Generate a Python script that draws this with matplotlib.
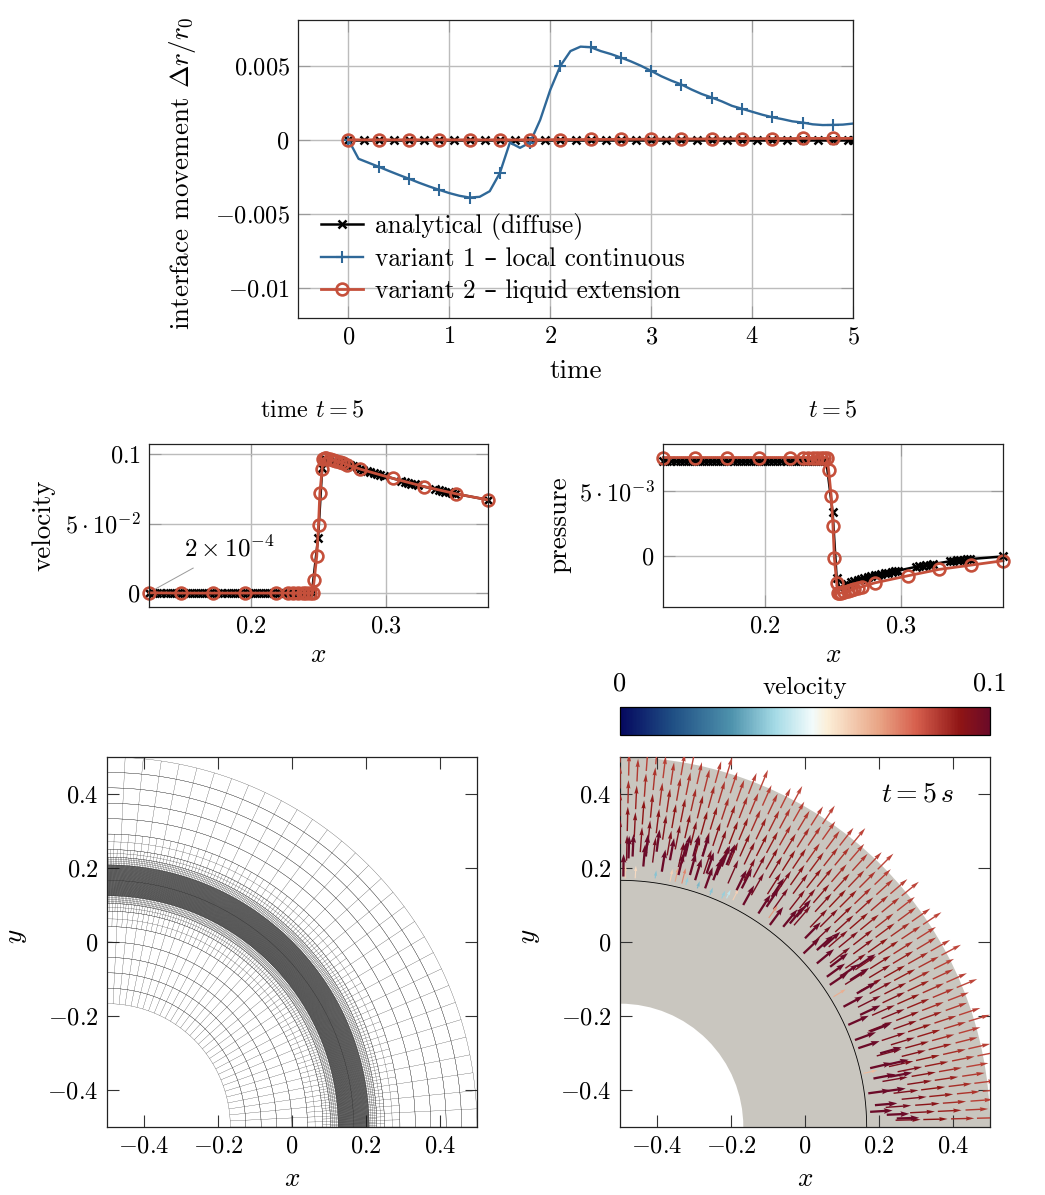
"""
Interface movement, velocity and pressure profiles, mesh and velocity glyphs
"""
import numpy as np
import matplotlib
matplotlib.use('Agg')
import matplotlib.pyplot as plt
from matplotlib.cm import ScalarMappable
from matplotlib.collections import LineCollection
from matplotlib.colors import LinearSegmentedColormap, Normalize
from matplotlib.patches import Wedge

W, H = 1045, 1195
plt.rcParams['font.family'] = ['cmr10', 'DejaVu Sans']
plt.rcParams['mathtext.fontset'] = 'cm'
plt.rcParams['axes.unicode_minus'] = False

RED = '#c5503b'
BLUE = '#2f6898'
GRID = '#bcbcbc'

# top panel
t_line = [0.0, 0.1, 0.2, 0.3, 0.4, 0.5, 0.6, 0.7, 0.8, 0.9, 1.0, 1.1, 1.2, 1.3, 1.4, 1.5, 1.6,
          1.7, 1.8, 1.9, 2.0, 2.1, 2.2, 2.3, 2.4, 2.5, 2.6, 2.7, 2.8, 2.9, 3.0, 3.1, 3.2, 3.3,
          3.4, 3.5, 3.6, 3.7, 3.8, 3.9, 4.0, 4.1, 4.2, 4.3, 4.4, 4.5, 4.6, 4.7, 4.8, 4.9, 5.0]
move_variant1 = [0.0, -0.00128, -0.00155, -0.00182, -0.0021, -0.00237, -0.00263, -0.0029,
                 -0.00315, -0.00338, -0.0036, -0.00378, -0.0039, -0.00385, -0.00347, -0.00225,
                 -0.00018, -0.00054, -0.00018, 0.00135, 0.00338, 0.005, 0.006, 0.0063, 0.00626,
                 0.0060, 0.0058, 0.00556, 0.0053, 0.005, 0.00466, 0.0043, 0.004, 0.00374, 0.0034,
                 0.0031, 0.00286, 0.0026, 0.0023, 0.0021, 0.0019, 0.0017, 0.00153, 0.0014,
                 0.00125, 0.00117, 0.00105, 0.001, 0.00101, 0.00103, 0.0011]
move_variant2 = [0.0, 0.0, 0.0, 0.0, 0.0, 0.0, 0.0, 0.0, 0.0, 0.0, 0.0, 0.0, 0.0, 0.0, 0.0, 0.0,
                 0.0, 0.0, 0.0, 0.0, 0.00001, 0.00002, 0.00002, 0.00002, 0.00003, 0.00003,
                 0.00003, 0.00004, 0.00004, 0.00004, 0.00005, 0.00005, 0.00005, 0.00006, 0.00006,
                 0.00006, 0.00007, 0.00007, 0.00007, 0.00008, 0.00008, 0.00008, 0.00009, 0.00009,
                 0.00009, 0.0001, 0.0001, 0.0001, 0.0001, 0.0001, 0.0001]
t_analytical = [0.0, 0.15, 0.3, 0.45, 0.6, 0.75, 0.9, 1.05, 1.2, 1.35, 1.5, 1.65, 1.8, 1.95, 2.1,
                2.25, 2.4, 2.55, 2.7, 2.85, 3.0, 3.15, 3.3, 3.45, 3.6, 3.75, 3.9, 4.05, 4.2,
                4.35, 4.5, 4.65, 4.8, 4.95, 5.0]
move_analytical = [0.0] * 35
top_xticks = [0, 1, 2, 3, 4, 5]
top_yticks = [0.005, 0, -0.005, -0.01]
top_yticklabels = ['$0.005$', '$0$', '$-0.005$', '$-0.01$']

# profile panels
x_black = [0.125, 0.128, 0.131, 0.134, 0.137, 0.14, 0.143, 0.146, 0.149, 0.152, 0.155, 0.158,
           0.161, 0.164, 0.167, 0.17, 0.173, 0.176, 0.179, 0.182, 0.185, 0.188, 0.191, 0.194,
           0.197, 0.2, 0.203, 0.206, 0.209, 0.212, 0.215, 0.218, 0.221, 0.224, 0.227, 0.23,
           0.233, 0.236, 0.239, 0.242, 0.245, 0.2496, 0.2526, 0.2547, 0.258, 0.2605, 0.263,
           0.2655, 0.268, 0.2705, 0.273, 0.2755, 0.278, 0.2805, 0.283, 0.2855, 0.288, 0.2905,
           0.293, 0.2955, 0.298, 0.311, 0.3135, 0.316, 0.3185, 0.321, 0.3235, 0.336, 0.3385,
           0.341, 0.3435, 0.346, 0.3485, 0.351, 0.375]
velocity_black = [0.0] * 41 + [0.0396, 0.0898, 0.0965, 0.0955, 0.0948, 0.0942, 0.0936, 0.093,
                               0.0925, 0.092, 0.0915, 0.0905, 0.0895, 0.0888, 0.088, 0.0873,
                               0.0866, 0.086, 0.0852, 0.0845, 0.0808, 0.0802, 0.0795, 0.0788,
                               0.0783, 0.0775, 0.0748, 0.0742, 0.0737, 0.0731, 0.0726, 0.072,
                               0.0715, 0.0671]
pressure_black = [0.00729] * 41 + [0.0034, -0.0017, -0.00242, -0.00225, -0.00212, -0.00203,
                                   -0.00192, -0.00183, -0.00175, -0.00168, -0.00162, -0.00155,
                                   -0.00148, -0.00143, -0.00137, -0.00132, -0.00127, -0.00122,
                                   -0.00117, -0.00112, -0.00083, -0.00078, -0.00074, -0.0007,
                                   -0.00066, -0.00062, -0.0004, -0.00037, -0.00034, -0.00031,
                                   -0.00028, -0.00026, -0.00023, -0.00003]
x_red = [0.125, 0.1481, 0.1717, 0.1953, 0.2184, 0.2275, 0.2312, 0.2349, 0.2381, 0.241, 0.2435,
         0.2455, 0.2467, 0.2486, 0.2499, 0.2509, 0.2526, 0.2533, 0.2545, 0.2558, 0.2582, 0.2607,
         0.2631, 0.2656, 0.268, 0.271, 0.2808, 0.3049, 0.3278, 0.3512, 0.375]
velocity_red = [0.0002, 0.0, 0.0, 0.0, 0.0, 0.0, 0.0, 0.0, 0.0, 0.0, 0.0, 0.0, 0.0091, 0.0266,
                0.0492, 0.0719, 0.0894, 0.0967, 0.0971, 0.0973, 0.0965, 0.0958, 0.095, 0.0944,
                0.0936, 0.0923, 0.0892, 0.0825, 0.0767, 0.0715, 0.0671]
pressure_red = [0.00758, 0.00758, 0.00758, 0.00758, 0.00758, 0.00758, 0.00758, 0.00758, 0.00758,
                0.00758, 0.00758, 0.00758, 0.0066, 0.00459, 0.00229, -0.00015, -0.00204,
                -0.00286, -0.00286, -0.00284, -0.00276, -0.00268, -0.0026, -0.0025, -0.00243,
                -0.00237, -0.00206, -0.00152, -0.00103, -0.0007, -0.00036]

# colour bar
cbar_colors = ['#05085f', '#1f4e84', '#4e92ac', '#a5dbe6', '#f2fbfb', '#fcefd8', '#e9a586',
               '#d7604e', '#8f1515', '#6b0a28']
cbar_stops = [0.0, 0.14, 0.3, 0.42, 0.52, 0.56, 0.7, 0.8, 0.92, 1.0]

# mesh: radial cells, arcs per cell and spoke multiplier per cell
mesh_edges = [0.3333, 0.375, 0.4167, 0.4583, 0.5, 0.5417, 0.5833, 0.6042, 0.625, 0.6667, 0.7083,
              0.7292, 0.75, 0.7917, 0.8333, 0.875, 0.9167, 0.9583, 1.0]
mesh_arcs = [1, 1, 1, 1, 1, 2, 2, 4, 30, 30, 4, 2, 2, 1, 1, 1, 1, 1]
mesh_spokes = [1, 1, 1, 1, 1, 2, 4, 8, 28, 28, 8, 4, 2, 1, 1, 1, 1, 1]
mesh_sectors = 32

# glyphs: chains along the spokes, then the dark and pale ones by position
spoke_radii = [[0.745, 0.82, 0.895, 0.965], [0.785, 0.86, 0.935],
               [0.72, 0.80, 0.875, 0.95], [0.765, 0.84, 0.915, 0.985]]
spoke_speeds = [[0.095, 0.092, 0.088, 0.085], [0.094, 0.09, 0.086],
                [0.097, 0.093, 0.088, 0.085], [0.095, 0.091, 0.087, 0.084]]
dark_x = [-0.491, -0.477, -0.466, -0.437, -0.43, -0.387, -0.401, -0.365, -0.342, -0.333, -0.324,
          -0.311, -0.297, -0.302, -0.277, -0.27, -0.266, -0.248, -0.239, -0.225, -0.212, -0.185,
          -0.167, -0.171, -0.126, -0.104, -0.09, -0.095, -0.059, -0.041, -0.023, 0.0, 0.032, 0.05,
          -0.004, 0.032, 0.068, 0.059, 0.095, 0.122, 0.14, 0.067, 0.104, 0.14, 0.117, 0.149,
          0.135, 0.176, 0.144, 0.203, 0.176, 0.221, 0.185, 0.23, 0.171, 0.212, 0.189, 0.176,
          0.248, 0.221]
dark_y = [0.177, 0.226, 0.231, 0.204, 0.231, 0.19, 0.244, 0.221, 0.181, 0.213, 0.231, 0.181,
          0.167, 0.231, 0.231, 0.145, 0.185, 0.167, 0.181, 0.204, 0.208, 0.14, 0.1, 0.145, 0.077,
          0.095, 0.122, 0.046, 0.041, 0.05, 0.068, 0.01, -0.022, -0.013, -0.031, -0.058, -0.067,
          -0.094, -0.094, -0.103, -0.067, -0.116, -0.175, -0.139, -0.224, -0.197, -0.265,
          -0.242, -0.287, -0.301, -0.341, -0.332, -0.369, -0.364, -0.409, -0.404, -0.441,
          -0.459, -0.477, -0.467]
pale_x = [-0.486, -0.459, -0.405, -0.365, -0.351, -0.333, -0.322, -0.291, -0.257, -0.225, -0.212,
          -0.195, -0.098, 0.158, 0.077]
pale_y = [0.172, 0.172, 0.172, 0.163, 0.163, 0.158, 0.154, 0.145, 0.127, 0.118, 0.118, 0.113,
          0.065, -0.355, -0.148]
pale_speed = [0.062, 0.06, 0.038, 0.062, 0.07, 0.075, 0.04, 0.036, 0.038, 0.04, 0.045, 0.062,
              0.072, 0.066, 0.068]

panel_ticks = [-0.4, -0.2, 0, 0.2, 0.4]
panel_ticklabels = ['$-0.4$', '$-0.2$', '$0$', '$0.2$', '$0.4$']


def axes_px(fig, left, top, right, bottom):
    return fig.add_axes([left / W, 1 - bottom / H, (right - left) / W, (bottom - top) / H])


def label_px(fig, ax, xlabel, xpos, ylabel, ypos):
    ax.set_xlabel(xlabel, fontsize=19.5, va='center')
    ax.set_ylabel(ylabel, fontsize=19.5, va='center')
    ax.xaxis.set_label_coords(xpos[0] / W, 1 - xpos[1] / H, transform=fig.transFigure)
    ax.yaxis.set_label_coords(ypos[0] / W, 1 - ypos[1] / H, transform=fig.transFigure)


def style_axes(ax, tick_color, grid):
    ax.tick_params(direction='in', top=True, right=True, length=8.5, width=0.8,
                   color=tick_color, labelsize=17.5, pad=6)
    for spine in ax.spines.values():
        spine.set_linewidth(0.9)
        spine.set_color('#222222')
    if grid:
        ax.grid(True, color=GRID, linewidth=1.0)
        ax.set_axisbelow(True)


def draw_profile(ax, x_b, y_b, y_r):
    ax.plot(x_b, y_b, color='black', lw=1.8, marker='x', ms=6, mew=1.8, clip_on=False)
    ax.plot(x_red, y_r, color=RED, lw=2.0, marker='o', ms=8.5, mew=1.9, mfc='none', clip_on=False)
    ax.set_xlim(0.1248, 0.375)
    ax.set_xticks([0.2, 0.3], ['$0.2$', '$0.3$'])


def draw_mesh(ax):
    segments = []
    for k, arcs in enumerate(mesh_arcs):
        r_in, r_out = mesh_edges[k], mesh_edges[k + 1]
        for r in np.linspace(r_in, r_out, arcs + 1):
            th = np.linspace(0, np.pi / 2, 129)
            segments.append(np.column_stack([-0.5 + r * np.cos(th), -0.5 + r * np.sin(th)]))
        for th in np.linspace(0, np.pi / 2, mesh_sectors * mesh_spokes[k] + 1):
            segments.append([(-0.5 + r_in * np.cos(th), -0.5 + r_in * np.sin(th)),
                             (-0.5 + r_out * np.cos(th), -0.5 + r_out * np.sin(th))])
    ax.add_collection(LineCollection(segments, colors='#1a1a1a', linewidths=0.18))


def draw_glyphs(ax, cmap):
    ax.add_patch(Wedge((-0.5, -0.5), 1.0, 0, 90, width=0.6667, facecolor='#c9c6bf', edgecolor='none'))
    th = np.linspace(0, np.pi / 2, 200)
    ax.plot(-0.5 + 0.6667 * np.cos(th), -0.5 + 0.6667 * np.sin(th), color='black', lw=0.6)

    norm = Normalize(0, 0.1)
    qargs = dict(angles='xy', scale_units='xy', scale=1.4, units='xy', cmap=cmap, norm=norm, zorder=3)

    xs, ys, us, vs, cs = [], [], [], [], []
    for j, th_j in enumerate(np.linspace(0, np.pi / 2, 65)[:-1] + np.pi / 128):
        for r, s in zip(spoke_radii[j % 4], spoke_speeds[j % 4]):
            xs.append(-0.5 + r * np.cos(th_j))
            ys.append(-0.5 + r * np.sin(th_j))
            us.append(s * np.cos(th_j))
            vs.append(s * np.sin(th_j))
            cs.append(s)
    ax.quiver(xs, ys, us, vs, cs, width=0.0038, headwidth=3.0, headlength=6, headaxislength=5.5, **qargs)

    th_p = np.arctan2(np.array(pale_y) + 0.5, np.array(pale_x) + 0.5)
    ax.quiver(pale_x, pale_y, np.array(pale_speed) * np.cos(th_p) * 0.8, np.array(pale_speed) * np.sin(th_p) * 0.8,
              pale_speed, width=0.003, headwidth=3, headlength=5, headaxislength=4.5, **qargs)

    th_d = np.arctan2(np.array(dark_y) + 0.5, np.array(dark_x) + 0.5)
    ax.quiver(dark_x, dark_y, 0.085 * np.cos(th_d), 0.085 * np.sin(th_d), np.full(len(dark_x), 0.1),
              width=0.0062, headwidth=2.5, headlength=3.8, headaxislength=3.4, **qargs)


def main():
    fig = plt.figure(figsize=(W / 100, H / 100), dpi=100)

    # top panel
    ax = axes_px(fig, 298, 20, 853, 318)
    ax.plot(t_analytical, move_analytical, color='black', lw=1.8, marker='x', ms=6, mew=1.8,
            label='analytical (diffuse)')
    ax.plot(t_line, move_variant1, color=BLUE, lw=1.7, marker='+', ms=8.5, mew=1.5, markevery=3,
            label='variant 1 \u2013 local continuous')
    ax.plot(t_line, move_variant2, color=RED, lw=2.0, marker='o', ms=8.5, mew=1.9, mfc='none', markevery=3,
            label='variant 2 \u2013 liquid extension')
    ax.set_xlim(-0.5, 5)
    ax.set_ylim(-0.01204, 0.0081)
    ax.set_xticks(top_xticks, [f'${v}$' for v in top_xticks])
    ax.set_yticks(top_yticks, top_yticklabels)
    style_axes(ax, '#9a9a9a', True)
    label_px(fig, ax, 'time', (576, 371), 'interface movement $\\Delta r/r_0$', (183, 173))
    ax.legend(loc='lower left', bbox_to_anchor=(0.0144, 0.0), frameon=False, fontsize=18.3, handlelength=1.65,
              handletextpad=0.48, labelspacing=0.3, borderaxespad=0.2, borderpad=0.4, numpoints=1)

    # velocity profile
    ax = axes_px(fig, 149, 444, 488, 607)
    draw_profile(ax, x_black, velocity_black, velocity_red)
    ax.set_ylim(-0.01, 0.1073)
    ax.set_yticks([0, 0.05, 0.1], ['$0$', '$5\\cdot10^{-2}$', '$0.1$'])
    style_axes(ax, '#9a9a9a', True)
    label_px(fig, ax, '$x$', (318, 655), 'velocity', (44, 525))
    ax.plot([0.1294, 0.1574], [0.0029, 0.018], color='#9a9a9a', lw=0.7)
    ax.text(0.1841, 0.0324, r'$2\times10^{-4}$', fontsize=18, ha='center', va='center')

    # pressure profile
    ax = axes_px(fig, 663, 444, 1003, 607)
    draw_profile(ax, x_black, pressure_black, pressure_red)
    ax.set_ylim(-0.00392, 0.00862)
    ax.set_yticks([0, 0.005], ['$0$', '$5\\cdot10^{-3}$'])
    style_axes(ax, '#9a9a9a', True)
    label_px(fig, ax, '$x$', (833, 655), 'pressure', (559, 525))

    fig.text(312 / W, 1 - 410 / H, 'time $t=5$', fontsize=17.5, ha='center', va='center')
    fig.text(833 / W, 1 - 410 / H, '$t=5$', fontsize=17.5, ha='center', va='center')

    # colour bar
    cmap = LinearSegmentedColormap.from_list('velocity', list(zip(cbar_stops, cbar_colors)))
    cax = axes_px(fig, 620, 707, 990, 735)
    cb = fig.colorbar(ScalarMappable(Normalize(0, 0.1), cmap), cax=cax, orientation='horizontal')
    cb.set_ticks([])
    cb.outline.set_linewidth(0.9)
    fig.text(620 / W, 1 - 684 / H, '0', fontsize=19, ha='center', va='center')
    fig.text(805 / W, 1 - 688 / H, 'velocity', fontsize=18, ha='center', va='center')
    fig.text(990 / W, 1 - 684 / H, '0.1', fontsize=19, ha='center', va='center')

    # mesh and glyph panels
    mesh_ax = axes_px(fig, 107, 757, 477, 1127)
    glyph_ax = axes_px(fig, 620, 757, 990, 1127)
    draw_mesh(mesh_ax)
    draw_glyphs(glyph_ax, cmap)
    glyph_ax.text(0.303, 0.4, '$t = 5\\,s$', fontsize=20, ha='center', va='center', zorder=5)
    for ax, xpos, ypos in [(mesh_ax, (292, 1179), (17, 936)), (glyph_ax, (805, 1179), (530, 936))]:
        ax.set_xlim(-0.5, 0.5)
        ax.set_ylim(-0.5, 0.5)
        ax.set_xticks(panel_ticks, panel_ticklabels)
        ax.set_yticks(panel_ticks, panel_ticklabels)
        style_axes(ax, '#333333', False)
        label_px(fig, ax, '$x$', xpos, '$y$', ypos)

    fig.savefig('out.png', dpi=100)


if __name__ == "__main__":
    main()
